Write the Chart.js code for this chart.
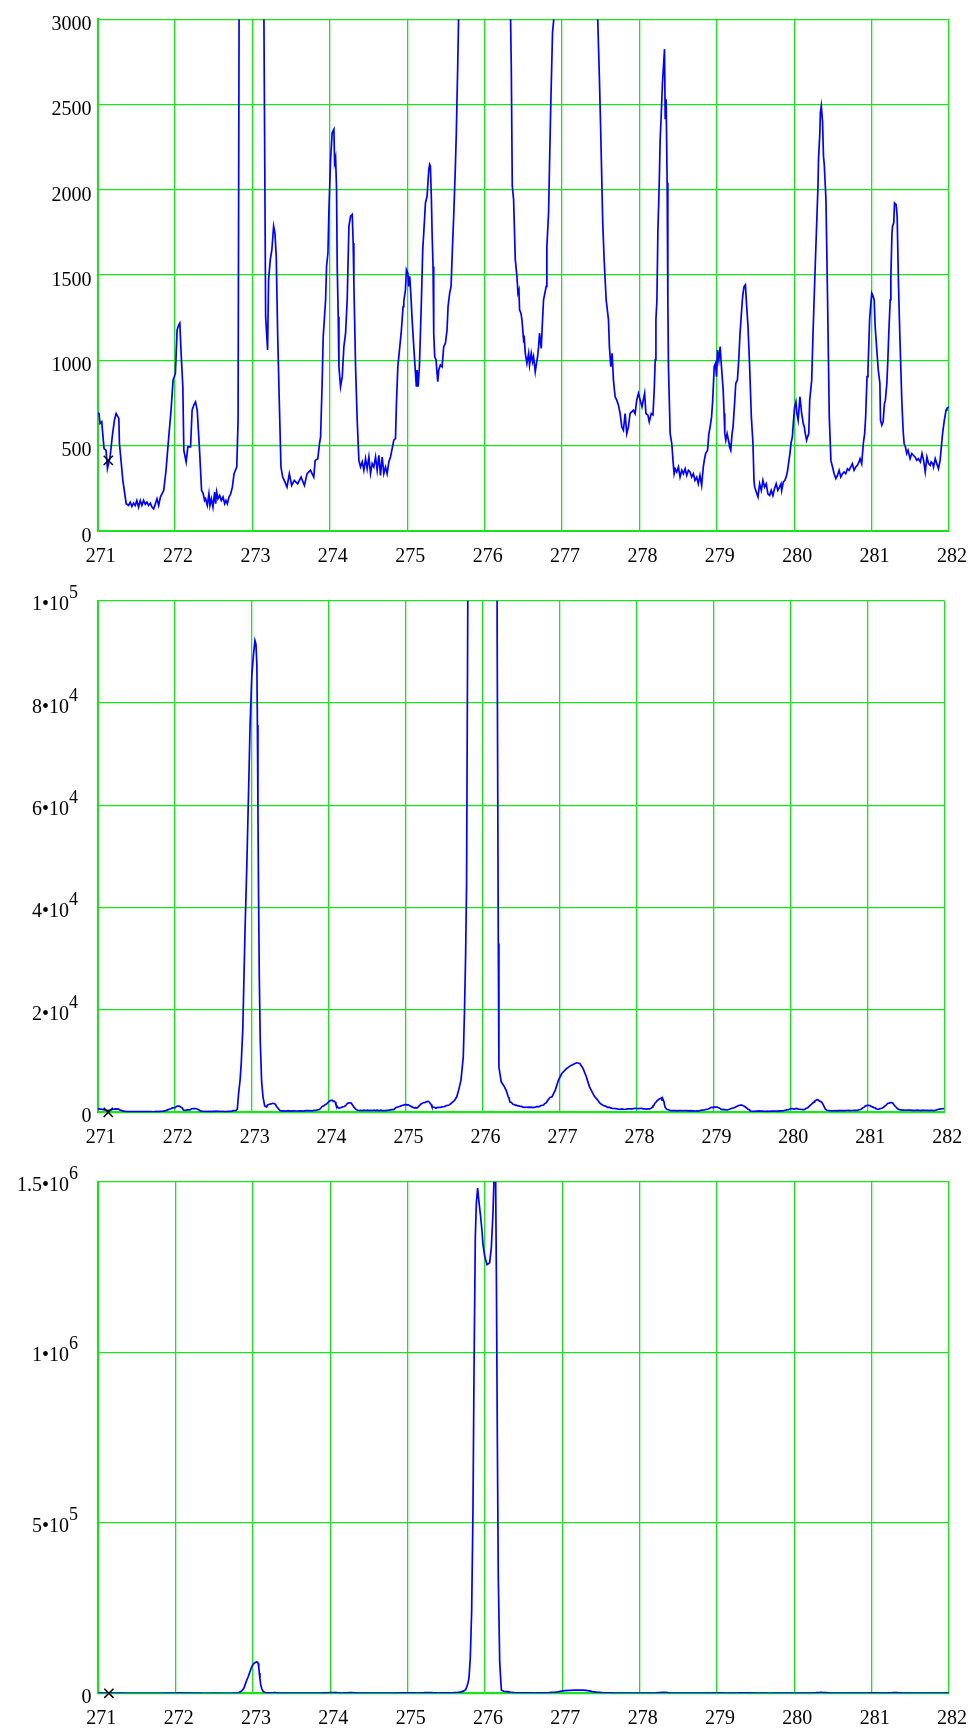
<!DOCTYPE html>
<html>
<head>
<meta charset="utf-8">
<script src="https://cdn.jsdelivr.net/npm/chart.js@4.4.1/dist/chart.umd.min.js"></script>
<style>
  html, body { margin: 0; padding: 0; background: #fff; overflow: hidden; }
  body { width: 971px; height: 1731px; position: relative; }
  canvas { position: absolute; left: 0; }
</style>
</head>
<body>
<canvas id="p1" width="971" height="569" style="top:0px"></canvas>
<canvas id="p2" width="971" height="569" style="top:581px"></canvas>
<canvas id="p3" width="971" height="569" style="top:1162px"></canvas>
<script>
// spectrum (same trace, three y ranges)
const mass = [
  271.000, 271.017, 271.030, 271.052, 271.065, 271.082, 271.108, 271.126, 271.160, 271.190,
  271.216, 271.238, 271.273, 271.281, 271.325, 271.368, 271.398, 271.420, 271.442, 271.463,
  271.485, 271.506, 271.528, 271.550, 271.571, 271.593, 271.615, 271.636, 271.658, 271.680,
  271.701, 271.723, 271.745, 271.766, 271.788, 271.810, 271.853, 271.883, 271.918, 271.948,
  271.974, 272.004, 272.026, 272.048, 272.061, 272.078, 272.100, 272.113, 272.143, 272.165,
  272.200, 272.220, 272.242, 272.264, 272.286, 272.316, 272.342, 272.364, 272.381, 272.394,
  272.416, 272.437, 272.450, 272.468, 272.489, 272.511, 272.524, 272.537, 272.554, 272.576,
  272.597, 272.619, 272.641, 272.658, 272.675, 272.697, 272.719, 272.740, 272.762, 272.797,
  272.814, 272.830, 272.850, 272.865, 272.885, 272.900, 272.915, 272.937, 272.960, 272.980,
  273.003, 273.025, 273.043, 273.056, 273.068, 273.075, 273.082, 273.090, 273.100, 273.112,
  273.130, 273.148, 273.170, 273.195, 273.208, 273.230, 273.251, 273.273, 273.290, 273.307,
  273.325, 273.346, 273.368, 273.390, 273.411, 273.446, 273.476, 273.506, 273.541, 273.584,
  273.628, 273.671, 273.706, 273.749, 273.792, 273.810, 273.844, 273.866, 273.880, 273.900,
  273.914, 273.945, 273.957, 273.975, 273.988, 274.009, 274.030, 274.052, 274.061, 274.074,
  274.086, 274.095, 274.108, 274.117, 274.138, 274.160, 274.181, 274.203, 274.224, 274.246,
  274.267, 274.289, 274.301, 274.310, 274.332, 274.353, 274.375, 274.396, 274.418, 274.439,
  274.461, 274.482, 274.504, 274.525, 274.547, 274.568, 274.590, 274.611, 274.633, 274.654,
  274.676, 274.697, 274.719, 274.740, 274.762, 274.783, 274.805, 274.826, 274.848, 274.860,
  274.878, 274.899, 274.921, 274.946, 274.955, 274.977, 274.989, 275.007, 275.020, 275.032,
  275.050, 275.063, 275.084, 275.106, 275.118, 275.127, 275.140, 275.157, 275.170, 275.183,
  275.200, 275.213, 275.235, 275.256, 275.278, 275.290, 275.299, 275.312, 275.321, 275.333,
  275.342, 275.355, 275.372, 275.385, 275.394, 275.407, 275.428, 275.450, 275.471, 275.493,
  275.514, 275.527, 275.548, 275.566, 275.583, 275.600, 275.622, 275.634, 275.652, 275.665,
  275.690, 275.720, 275.750, 275.765, 275.780, 275.793, 275.810, 275.828, 275.845, 275.858,
  275.875, 275.888, 275.905, 275.922, 275.944, 275.961, 275.974, 275.996, 276.026, 276.060,
  276.082, 276.103, 276.116, 276.127, 276.138, 276.147, 276.160, 276.172, 276.190, 276.205,
  276.213, 276.243, 276.285, 276.310, 276.335, 276.344, 276.357, 276.374, 276.396, 276.417,
  276.430, 276.443, 276.451, 276.469, 276.482, 276.503, 276.512, 276.525, 276.546, 276.568,
  276.580, 276.602, 276.619, 276.632, 276.654, 276.666, 276.684, 276.697, 276.709, 276.731,
  276.748, 276.761, 276.795, 276.804, 276.826, 276.838, 276.856, 276.877, 276.903, 276.945,
  276.987, 277.030, 277.094, 277.157, 277.221, 277.264, 277.306, 277.349, 277.390, 277.434,
  277.458, 277.483, 277.500, 277.526, 277.544, 277.570, 277.600, 277.612, 277.630, 277.647,
  277.664, 277.686, 277.707, 277.729, 277.750, 277.772, 277.793, 277.815, 277.836, 277.858,
  277.879, 277.900, 277.922, 277.944, 277.965, 277.987, 278.010, 278.033, 278.067, 278.084,
  278.110, 278.127, 278.153, 278.175, 278.191, 278.204, 278.213, 278.226, 278.238, 278.256,
  278.268, 278.281, 278.298, 278.311, 278.324, 278.333, 278.345, 278.358, 278.367, 278.375,
  278.397, 278.418, 278.440, 278.448, 278.461, 278.482, 278.504, 278.525, 278.547, 278.568,
  278.590, 278.611, 278.633, 278.654, 278.675, 278.697, 278.718, 278.740, 278.761, 278.782,
  278.804, 278.825, 278.838, 278.855, 278.880, 278.897, 278.910, 278.932, 278.947, 278.966,
  278.983, 278.996, 279.009, 279.026, 279.043, 279.060, 279.082, 279.094, 279.103, 279.116,
  279.133, 279.159, 279.164, 279.180, 279.197, 279.210, 279.232, 279.245, 279.266, 279.283,
  279.300, 279.330, 279.339, 279.352, 279.369, 279.386, 279.403, 279.424, 279.446, 279.467,
  279.480, 279.489, 279.510, 279.532, 279.553, 279.575, 279.596, 279.617, 279.639, 279.660,
  279.682, 279.703, 279.724, 279.745, 279.767, 279.788, 279.810, 279.829, 279.838, 279.859,
  279.880, 279.902, 279.915, 279.932, 279.945, 279.958, 279.976, 279.988, 280.005, 280.022,
  280.035, 280.051, 280.074, 280.096, 280.117, 280.130, 280.143, 280.160, 280.173, 280.188,
  280.200, 280.226, 280.243, 280.264, 280.286, 280.307, 280.314, 280.331, 280.338, 280.350,
  280.366, 280.378, 280.388, 280.410, 280.431, 280.453, 280.474, 280.495, 280.516, 280.538,
  280.559, 280.580, 280.602, 280.623, 280.645, 280.666, 280.688, 280.709, 280.730, 280.751,
  280.773, 280.795, 280.816, 280.838, 280.851, 280.872, 280.893, 280.910, 280.923, 280.941,
  280.953, 280.966, 280.974, 280.987, 281.002, 281.013, 281.033, 281.046, 281.064, 281.086,
  281.107, 281.115, 281.132, 281.149, 281.166, 281.178, 281.197, 281.210, 281.222, 281.240,
  281.249, 281.263, 281.271, 281.286, 281.296, 281.317, 281.330, 281.347, 281.364, 281.377,
  281.390, 281.407, 281.420, 281.437, 281.454, 281.471, 281.497, 281.519, 281.540, 281.561,
  281.583, 281.604, 281.630, 281.651, 281.672, 281.693, 281.715, 281.736, 281.757, 281.770,
  281.789, 281.800, 281.822, 281.842, 281.864, 281.885, 281.905, 281.917, 281.940, 281.962,
  281.973, 282.000
];
const counts = [
  690, 688, 629, 640, 570, 482, 472, 365, 433, 560,
  649, 688, 659, 512, 296, 159, 149, 168, 143, 162,
  149, 178, 139, 178, 149, 178, 155, 168, 149, 162,
  139, 129, 159, 188, 149, 198, 237, 355, 551, 708,
  884, 923, 1178, 1208, 1218, 1041, 845, 472, 404, 492,
  492, 708, 737, 756, 708, 472, 237, 217, 178, 188,
  149, 217, 149, 188, 139, 227, 159, 227, 188, 207,
  178, 198, 159, 178, 159, 198, 217, 256, 335, 374,
  649, 3600, 6300, 9600, 16200, 26100, 36000, 47900, 62500, 75700,
  85600, 89600, 92200, 91500, 87600, 75700, 59200, 42600, 26100, 14000,
  6000, 3000, 1256, 1060, 1472, 1590, 1650, 1786, 1747, 1609,
  1159, 766, 374, 315, 296, 256, 335, 266, 296, 276,
  315, 266, 335, 355, 315, 413, 423, 512, 551, 865,
  1139, 1355, 1550, 1629, 1884, 2178, 2335, 2355, 2159, 2188,
  2012, 1550, 1256, 962, 845, 904, 1080, 1159, 1355, 1786,
  1845, 1855, 1688, 1453, 962, 649, 413, 374, 404, 355,
  423, 364, 433, 335, 394, 374, 433, 355, 443, 325,
  433, 335, 374, 335, 404, 433, 482, 531, 541, 747,
  962, 1060, 1159, 1315, 1345, 1413, 1531, 1512, 1433, 1492,
  1355, 1237, 1080, 923, 845, 943, 845, 962, 1159, 1355,
  1649, 1747, 1923, 1962, 2119, 2149, 2139, 1943, 1747, 1550,
  1159, 1021, 1002, 923, 874, 943, 972, 962, 1080, 1100,
  1178, 1315, 1394, 1433, 1649, 1845, 2139, 2335, 2727, 3050,
  4355, 6308, 10860, 19335, 30390, 44700, 104000, 243000, 542000, 939000,
  1337000, 1436000, 1481000, 1441000, 1397000, 1357000, 1317000, 1282000, 1257000, 1262000,
  1307000, 1406000, 1500000, 1620000, 1500000, 1237000, 740000, 343000, 94400, 33000,
  8900, 5976, 5000, 4200, 3000, 2727, 2021, 1943, 1590, 1492,
  1394, 1413, 1296, 1276, 1237, 1119, 1129, 1041, 982, 1041,
  972, 1041, 992, 1021, 933, 972, 1021, 1080, 1159, 1070,
  1237, 1355, 1433, 1668, 1865, 2139, 2531, 2923, 3050, 4360,
  6300, 7600, 8600, 9240, 9700, 9570, 8600, 6960, 5000, 3700,
  3050, 2649, 2335, 1806, 1590, 1355, 1237, 1080, 962, 1041,
  884, 786, 766, 737, 688, 610, 590, 688, 570, 610,
  688, 698, 708, 688, 766, 806, 766, 727, 806, 688,
  678, 639, 688, 680, 825, 1002, 1237, 1355, 1747, 2041,
  2296, 2433, 2629, 2727, 2825, 2414, 2531, 2041, 1355, 962,
  570, 512, 374, 335, 364, 345, 374, 315, 355, 335,
  364, 325, 355, 345, 315, 335, 296, 315, 276, 325,
  266, 374, 413, 453, 472, 570, 600, 668, 766, 962,
  982, 904, 1060, 1002, 1080, 962, 825, 688, 570, 531,
  570, 512, 492, 472, 570, 610, 766, 865, 884, 1002,
  1159, 1355, 1394, 1433, 1443, 1315, 1198, 962, 668, 512,
  296, 256, 227, 198, 276, 237, 296, 256, 276, 217,
  207, 237, 207, 247, 276, 237, 256, 276, 237, 286,
  296, 325, 355, 413, 453, 512, 551, 629, 727, 757,
  688, 649, 786, 688, 629, 610, 570, 531, 551, 570,
  766, 884, 1159, 1453, 1747, 2021, 2178, 2335, 2453, 2492,
  2400, 2198, 2150, 1943, 1355, 668, 413, 374, 335, 306,
  325, 355, 315, 335, 345, 335, 364, 355, 374, 394,
  355, 374, 384, 404, 423, 394, 512, 570, 668, 904,
  943, 1119, 1237, 1315, 1394, 1384, 1355, 1198, 1080, 943,
  865, 649, 619, 640, 747, 766, 865, 1002, 1159, 1355,
  1492, 1747, 1786, 1806, 1923, 1913, 1845, 1453, 1159, 962,
  766, 590, 512, 492, 453, 472, 423, 453, 443, 433,
  413, 423, 404, 453, 413, 345, 433, 394, 384, 404,
  394, 374, 423, 394, 364, 413, 512, 570, 649, 708,
  718, 727
];

const xTickValues = [271, 272, 273, 274, 275, 276, 277, 278, 279, 280, 281, 282];
const yTicksLow = [0, 500, 1000, 1500, 2000, 2500, 3000];
const yLabelsLow = [['0', ''], ['500', ''], ['1000', ''], ['1500', ''], ['2000', ''], ['2500', ''], ['3000', '']];
const yTicksMid = [0, 20000, 40000, 60000, 80000, 100000];
const yLabelsMid = [['0', ''], ['2\u202210', '4'], ['4\u202210', '4'], ['6\u202210', '4'], ['8\u202210', '4'], ['1\u202210', '5']];
const yTicksHigh = [0, 500000, 1000000, 1500000];
const yLabelsHigh = [['0', ''], ['5\u202210', '5'], ['1\u202210', '6'], ['1.5\u202210', '6']];
const cursorMass = 271.137;
const cursorCounts = [413, 0, 0];

const GREEN = 'rgb(25,228,25)';
const FONT = '"Liberation Serif", "Times New Roman", serif';

const tickLabels = {
  id: 'tickLabels',
  afterDraw(chart, args, opts) {
    const { ctx, chartArea, scales } = chart;
    ctx.save();
    ctx.fillStyle = '#000';
    ctx.textBaseline = 'alphabetic';
    ctx.font = '20px ' + FONT;
    ctx.textAlign = 'center';
    scales.x.ticks.forEach(t => {
      ctx.fillText(String(t.value), scales.x.getPixelForValue(t.value) + 3, chartArea.bottom + 31);
    });
    scales.y.ticks.forEach((t, i) => {
      const y = scales.y.getPixelForValue(t.value) + opts.dy;
      const [main, exp] = opts.labels[i];
      if (!exp) {
        ctx.font = '20px ' + FONT;
        ctx.textAlign = 'right';
        ctx.fillText(main, 91.5, y);
      } else {
        ctx.font = '18px ' + FONT;
        const ew = ctx.measureText(exp).width;
        ctx.textAlign = 'left';
        ctx.fillText(exp, 78 - ew, y - 12);
        ctx.font = '20px ' + FONT;
        ctx.textAlign = 'right';
        ctx.fillText(main, 78 - ew, y);
      }
    });
    ctx.restore();
  }
};

const panels = [
  { id: 'p1', max: 3000, ticks: yTicksLow, labels: yLabelsLow, top: 19.3, bottom: 530.8, left: 97.7, right: 949, dy: 10.7 },
  { id: 'p2', max: 100000, ticks: yTicksMid, labels: yLabelsMid, top: 19.7, bottom: 531.4, left: 97.7, right: 944.3, dy: 9.6 },
  { id: 'p3', max: 1500000, ticks: yTicksHigh, labels: yLabelsHigh, top: 19.7, bottom: 531.3, left: 98.3, right: 949, dy: 9.2 }
];

const trace = mass.map((m, i) => ({ x: m, y: counts[i] }));

panels.forEach((p, k) => {
  const canvas = document.getElementById(p.id);
  new Chart(canvas, {
    type: 'line',
    data: {
      datasets: [
        {
          data: [{ x: cursorMass, y: cursorCounts[k] }],
          showLine: false,
          pointStyle: 'crossRot',
          pointRadius: 6.5,
          borderColor: '#000',
          borderWidth: 1.5,
          clip: false
        },
        {
          data: trace,
          borderColor: '#0000ff',
          borderWidth: 1.7,
          pointRadius: 0,
          tension: 0,
          fill: false
        }
      ]
    },
    options: {
      responsive: false,
      animation: false,
      events: [],
      layout: { padding: { top: p.top, left: 0, right: 971 - p.right, bottom: 0 } },
      plugins: {
        legend: { display: false },
        tooltip: { enabled: false },
        tickLabels: { labels: p.labels, dy: p.dy }
      },
      scales: {
        x: {
          type: 'linear',
          min: 271,
          max: 282,
          afterBuildTicks: s => { s.ticks = xTickValues.map(v => ({ value: v })); },
          afterFit: s => { s.height = 569 - p.bottom; },
          ticks: { display: false },
          grid: { color: GREEN, lineWidth: 1.3, drawTicks: false },
          border: { color: GREEN, width: 2 }
        },
        y: {
          type: 'linear',
          min: 0,
          max: p.max,
          afterBuildTicks: s => { s.ticks = p.ticks.map(v => ({ value: v })); },
          afterFit: s => { s.width = p.left; },
          ticks: { display: false },
          grid: { color: GREEN, lineWidth: 1.3, drawTicks: false },
          border: { color: GREEN, width: 2 }
        }
      }
    },
    plugins: [tickLabels]
  });
});
</script>
</body>
</html>
